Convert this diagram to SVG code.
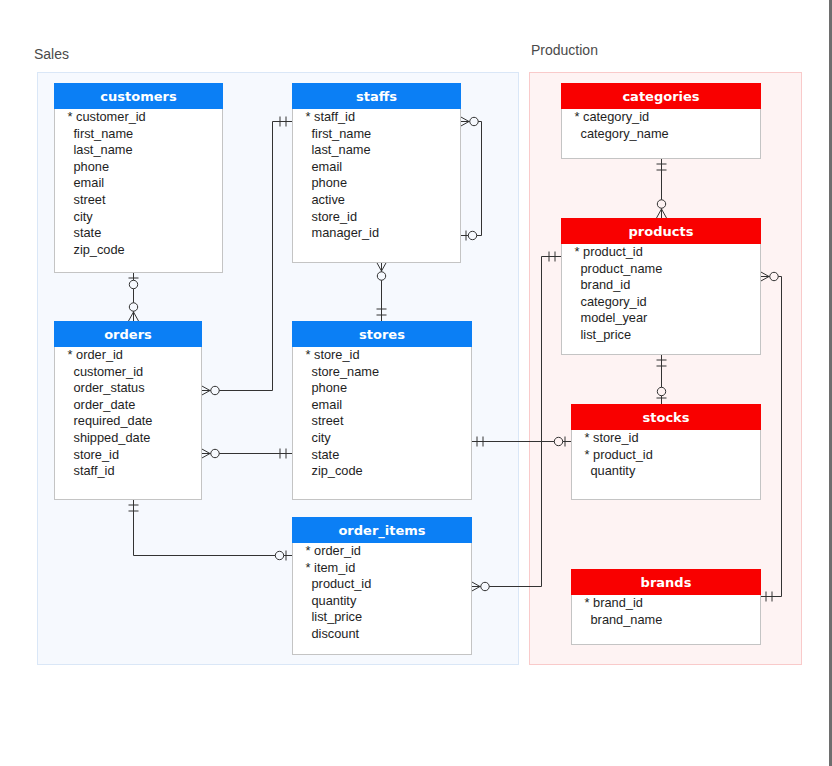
<svg xmlns="http://www.w3.org/2000/svg" xmlns:xlink="http://www.w3.org/1999/xlink" width="832" height="766" viewBox="0 0 832 766">
  <style>
    .grp-label { font-family: "Liberation Sans", Arial, sans-serif; font-size: 14px; fill: #4a4a4a; }
    .body { fill: #ffffff; stroke: #c4c4c4; stroke-width: 1; }
    .hdr-sales { fill: #0b7ff5; }
    .hdr-prod { fill: #f90000; }
    .title { font-family: "DejaVu Sans", Verdana, sans-serif; font-weight: bold; font-size: 13px; fill: #ffffff; text-anchor: middle; }
    .f { font-family: "Liberation Sans", Arial, sans-serif; font-size: 12.8px; fill: #1e1e1e; }
    .conn { fill: none; stroke: #333333; stroke-width: 1; }
    .sym line, .sym polyline { stroke: #333333; stroke-width: 1; fill: none; }
    .sym circle { stroke: #333333; stroke-width: 1; }
    /* circle fill is inherited from the surrounding area */
    .in-sales { fill: #f6f9fe; }
    .in-prod { fill: #fef3f3; }
  </style>
  <defs>
    <!-- end symbols: entity edge at origin, connector running toward +x -->
    <g id="one-one" class="sym">
      <line x1="6" y1="-5" x2="6" y2="5"/>
      <line x1="12" y1="-5" x2="12" y2="5"/>
    </g>
    <g id="zero-one" class="sym">
      <line x1="6" y1="-5" x2="6" y2="5"/>
      <circle cx="12.5" cy="0" r="4.2"/>
    </g>
    <g id="zero-many" class="sym">
      <polyline points="0,-5 9,0 0,5"/>
      <line x1="0" y1="0" x2="9" y2="0"/>
      <circle cx="14" cy="0" r="4.2"/>
    </g>
  </defs>

  <rect x="0" y="0" width="832" height="766" fill="#ffffff"/>
  <rect x="829" y="0" width="3" height="766" fill="#6e6e6e"/>

  <!-- subject areas -->
  <g id="area-sales">
    <rect x="37.5" y="72.5" width="481" height="592" fill="#f6f9fe" stroke="#dae7f7"/>
    <text class="grp-label" x="34" y="59">Sales</text>
  </g>
  <g id="area-production">
    <rect x="529.5" y="72.5" width="272" height="592" fill="#fef3f3" stroke="#f9caca"/>
    <text class="grp-label" x="531" y="55">Production</text>
  </g>

  <!-- relationships -->
  <g id="connectors">
    <path class="conn" d="M133.5,272 V321"/>
    <path class="conn" d="M292,121.5 H272.5 V390.5 H201"/>
    <path class="conn" d="M460,121.5 H481.5 V235.5 H460"/>
    <path class="conn" d="M381.5,262 V321"/>
    <path class="conn" d="M201,453.5 H292"/>
    <path class="conn" d="M471,441.5 H571"/>
    <path class="conn" d="M133.5,499 V555.5 H292"/>
    <path class="conn" d="M561,256.5 H541.5 V586.5 H471"/>
    <path class="conn" d="M760,276.5 H781.5 V596.5 H760"/>
    <path class="conn" d="M661.5,158 V218"/>
    <path class="conn" d="M661.5,354 V404"/>

    <g class="in-sales">
      <use xlink:href="#zero-one" transform="translate(133.5,272) rotate(90)"/>
      <use xlink:href="#zero-many" transform="translate(133.5,321) rotate(-90)"/>
      <use xlink:href="#one-one" transform="translate(292,121.5) rotate(180)"/>
      <use xlink:href="#zero-many" transform="translate(201,390.5)"/>
      <use xlink:href="#zero-many" transform="translate(460,121.5)"/>
      <use xlink:href="#zero-one" transform="translate(460,235.5)"/>
      <use xlink:href="#zero-many" transform="translate(381.5,262) rotate(90)"/>
      <use xlink:href="#one-one" transform="translate(381.5,321) rotate(-90)"/>
      <use xlink:href="#zero-many" transform="translate(201,453.5)"/>
      <use xlink:href="#one-one" transform="translate(292,453.5) rotate(180)"/>
      <use xlink:href="#one-one" transform="translate(471,441.5)"/>
      <use xlink:href="#one-one" transform="translate(133.5,499) rotate(90)"/>
      <use xlink:href="#zero-one" transform="translate(292,555.5) rotate(180)"/>
      <use xlink:href="#zero-many" transform="translate(471,586.5)"/>
    </g>
    <g class="in-prod">
      <use xlink:href="#zero-one" transform="translate(571,441.5) rotate(180)"/>
      <use xlink:href="#one-one" transform="translate(561,256.5) rotate(180)"/>
      <use xlink:href="#zero-many" transform="translate(760,276.5)"/>
      <use xlink:href="#one-one" transform="translate(760,596.5)"/>
      <use xlink:href="#one-one" transform="translate(661.5,158) rotate(90)"/>
      <use xlink:href="#zero-many" transform="translate(661.5,218) rotate(-90)"/>
      <use xlink:href="#one-one" transform="translate(661.5,354) rotate(90)"/>
      <use xlink:href="#zero-one" transform="translate(661.5,404) rotate(-90)"/>
    </g>
  </g>

  <!-- tables -->
  <g id="customers">
    <rect class="body" x="54.5" y="83.5" width="168" height="189"/>
    <rect class="hdr-sales" x="54" y="83" width="169" height="26"/>
    <text class="title" x="138.5" y="100.5">customers</text>
    <text class="f" x="67.5" y="121">* customer_id</text>
    <text class="f" x="73.5" y="137.6">first_name</text>
    <text class="f" x="73.5" y="154.2">last_name</text>
    <text class="f" x="73.5" y="170.8">phone</text>
    <text class="f" x="73.5" y="187.4">email</text>
    <text class="f" x="73.5" y="204">street</text>
    <text class="f" x="73.5" y="220.6">city</text>
    <text class="f" x="73.5" y="237.2">state</text>
    <text class="f" x="73.5" y="253.8">zip_code</text>
  </g>

  <g id="staffs">
    <rect class="body" x="292.5" y="83.5" width="168" height="179"/>
    <rect class="hdr-sales" x="292" y="83" width="169" height="26"/>
    <text class="title" x="376.5" y="100.5">staffs</text>
    <text class="f" x="305.5" y="121">* staff_id</text>
    <text class="f" x="311.5" y="137.6">first_name</text>
    <text class="f" x="311.5" y="154.2">last_name</text>
    <text class="f" x="311.5" y="170.8">email</text>
    <text class="f" x="311.5" y="187.4">phone</text>
    <text class="f" x="311.5" y="204">active</text>
    <text class="f" x="311.5" y="220.6">store_id</text>
    <text class="f" x="311.5" y="237.2">manager_id</text>
  </g>

  <g id="orders">
    <rect class="body" x="54.5" y="321.5" width="147" height="178"/>
    <rect class="hdr-sales" x="54" y="321" width="148" height="26"/>
    <text class="title" x="128" y="338.5">orders</text>
    <text class="f" x="67.5" y="359">* order_id</text>
    <text class="f" x="73.5" y="375.6">customer_id</text>
    <text class="f" x="73.5" y="392.2">order_status</text>
    <text class="f" x="73.5" y="408.8">order_date</text>
    <text class="f" x="73.5" y="425.4">required_date</text>
    <text class="f" x="73.5" y="442">shipped_date</text>
    <text class="f" x="73.5" y="458.6">store_id</text>
    <text class="f" x="73.5" y="475.2">staff_id</text>
  </g>

  <g id="stores">
    <rect class="body" x="292.5" y="321.5" width="179" height="178"/>
    <rect class="hdr-sales" x="292" y="321" width="180" height="26"/>
    <text class="title" x="382" y="338.5">stores</text>
    <text class="f" x="305.5" y="359">* store_id</text>
    <text class="f" x="311.5" y="375.6">store_name</text>
    <text class="f" x="311.5" y="392.2">phone</text>
    <text class="f" x="311.5" y="408.8">email</text>
    <text class="f" x="311.5" y="425.4">street</text>
    <text class="f" x="311.5" y="442">city</text>
    <text class="f" x="311.5" y="458.6">state</text>
    <text class="f" x="311.5" y="475.2">zip_code</text>
  </g>

  <g id="order_items">
    <rect class="body" x="292.5" y="517.5" width="179" height="137"/>
    <rect class="hdr-sales" x="292" y="517" width="180" height="26"/>
    <text class="title" x="382" y="534.5">order_items</text>
    <text class="f" x="305.5" y="555">* order_id</text>
    <text class="f" x="305.5" y="571.6">* item_id</text>
    <text class="f" x="311.5" y="588.2">product_id</text>
    <text class="f" x="311.5" y="604.8">quantity</text>
    <text class="f" x="311.5" y="621.4">list_price</text>
    <text class="f" x="311.5" y="638">discount</text>
  </g>

  <g id="categories">
    <rect class="body" x="561.5" y="83.5" width="199" height="75"/>
    <rect class="hdr-prod" x="561" y="83" width="200" height="26"/>
    <text class="title" x="661" y="100.5">categories</text>
    <text class="f" x="574.5" y="121">* category_id</text>
    <text class="f" x="580.5" y="137.6">category_name</text>
  </g>

  <g id="products">
    <rect class="body" x="561.5" y="218.5" width="199" height="136"/>
    <rect class="hdr-prod" x="561" y="218" width="200" height="26"/>
    <text class="title" x="661" y="235.5">products</text>
    <text class="f" x="574.5" y="256">* product_id</text>
    <text class="f" x="580.5" y="272.6">product_name</text>
    <text class="f" x="580.5" y="289.2">brand_id</text>
    <text class="f" x="580.5" y="305.8">category_id</text>
    <text class="f" x="580.5" y="322.4">model_year</text>
    <text class="f" x="580.5" y="339">list_price</text>
  </g>

  <g id="stocks">
    <rect class="body" x="571.5" y="404.5" width="189" height="95"/>
    <rect class="hdr-prod" x="571" y="404" width="190" height="26"/>
    <text class="title" x="666" y="421.5">stocks</text>
    <text class="f" x="584.5" y="442">* store_id</text>
    <text class="f" x="584.5" y="458.6">* product_id</text>
    <text class="f" x="590.5" y="475.2">quantity</text>
  </g>

  <g id="brands">
    <rect class="body" x="571.5" y="569.5" width="189" height="75"/>
    <rect class="hdr-prod" x="571" y="569" width="190" height="26"/>
    <text class="title" x="666" y="586.5">brands</text>
    <text class="f" x="584.5" y="607">* brand_id</text>
    <text class="f" x="590.5" y="623.6">brand_name</text>
  </g>
</svg>
